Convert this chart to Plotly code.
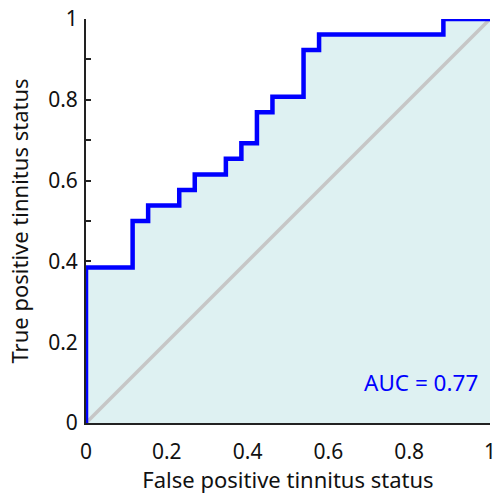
"""ROC curve - tinnitus status classifier"""

import plotly.graph_objects as go

# ── data ─────────────────────────────────────────────────────────────────────
fpr = [0, 0, 0.1154, 0.1538, 0.2308, 0.2692, 0.3462, 0.3846, 0.4231,
       0.4615, 0.5385, 0.5769, 0.8846, 1]
tpr = [0, 0.3846, 0.5, 0.5385, 0.5769, 0.6154, 0.6538, 0.6923, 0.7692,
       0.8077, 0.9231, 0.9615, 1, 1]
chance = [0, 1]
auc_label = "AUC = 0.77"

FONT = "Noto Sans"
BLUE = "#0000ff"

fig = go.Figure()

# shaded area under the curve
fig.add_trace(go.Scatter(
    x=fpr, y=tpr, mode="lines", line_shape="hv",
    line=dict(width=0, color="rgba(0,0,0,0)"),
    fill="tozeroy", fillcolor="#def1f2",
    hoverinfo="skip", showlegend=False,
))

# chance line
fig.add_trace(go.Scatter(
    x=chance, y=chance, mode="lines",
    line=dict(color="#c6c6c6", width=3.5),
    showlegend=False,
))

# ROC step curve
fig.add_trace(go.Scatter(
    x=fpr, y=tpr, mode="lines", line_shape="hv",
    line=dict(color=BLUE, width=4.5),
    cliponaxis=False, showlegend=False,
))

fig.add_annotation(
    x=0.975, y=0.1, xref="x", yref="y", text=auc_label,
    showarrow=False, xanchor="right", yanchor="middle",
    font=dict(family=FONT, size=22.5, color=BLUE),
)

axis_common = dict(
    range=[0, 1], dtick=0.2, tick0=0,
    ticks="inside", ticklen=5, tickwidth=1.5, tickcolor="#222",
    minor=dict(dtick=0.1, ticks="inside", ticklen=5, tickwidth=1.5, tickcolor="#222"),
    showline=True, linecolor="#222", linewidth=2,
    showgrid=False, zeroline=False, automargin=False,
    tickfont=dict(family=FONT, size=21, color="#111"),
    ticklabeloverflow="allow",
    layer="below traces",
)

fig.update_xaxes(
    **axis_common,
    ticklabelstandoff=9,
    title=dict(text="False positive tinnitus status", standoff=16,
               font=dict(family=FONT, size=22, color="#111")),
)
fig.update_yaxes(
    **axis_common,
    ticklabelstandoff=2,
    title=dict(text="True positive tinnitus status", standoff=13,
               font=dict(family=FONT, size=22, color="#111")),
)

fig.update_layout(
    width=493, height=494,
    margin=dict(l=86, r=3, t=19, b=71),
    plot_bgcolor="white", paper_bgcolor="white",
    showlegend=False,
)

# drop the default page margin so the figure fills the window exactly
fig.write_html(
    "out.html",
    config={"displayModeBar": False},
    post_script="document.body.style.margin='0';document.body.style.overflow='hidden';",
)
